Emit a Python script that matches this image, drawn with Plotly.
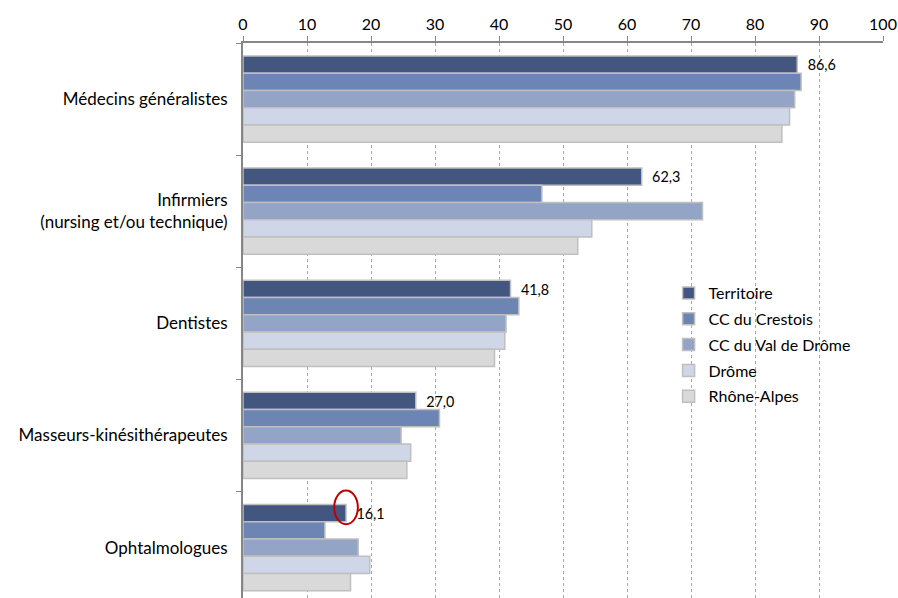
import plotly.graph_objects as go

categories = [
    "Médecins généralistes",
    "Infirmiers<br>(nursing et/ou technique)",
    "Dentistes",
    "Masseurs-kinésithérapeutes",
    "Ophtalmologues",
]
territoire = [86.6, 62.3, 41.8, 27.0, 16.1]
cc_crestois = [87.2, 46.7, 43.1, 30.7, 12.8]
cc_val_drome = [86.2, 71.8, 41.1, 24.7, 18.0]
drome = [85.4, 54.5, 40.9, 26.2, 19.8]
rhone_alpes = [84.2, 52.3, 39.3, 25.6, 16.8]
x_ticks = list(range(0, 101, 10))

series = [
    ("Territoire", territoire, "#42567F"),
    ("CC du Crestois", cc_crestois, "#6D85B5"),
    ("CC du Val de Drôme", cc_val_drome, "#93A4C7"),
    ("Drôme", drome, "#CED6E8"),
    ("Rhône-Alpes", rhone_alpes, "#D9D9D9"),
]

FONT = "Lato"

fig = go.Figure()
for name, vals, color in series:
    labels = None
    if name == "Territoire":
        labels = ["  " + f"{v:.1f}".replace(".", ",") for v in vals]
    fig.add_trace(go.Bar(
        name=name,
        legendgroup=name,
        y=categories,
        x=vals,
        orientation="h",
        marker=dict(color=color, line=dict(color="#BFBFBF", width=1.5)),
        text=labels,
        textposition="outside" if labels else None,
        textfont=dict(family=FONT, size=15, color="#000000"),
        cliponaxis=False,
        hoverinfo="x+name",
    ))

# highlight around the end of the Ophtalmologues / Territoire bar
oph_center = 4 - 0.308 - 0.05
fig.add_shape(
    type="circle", xref="x", yref="y",
    x0=territoire[4] - 1.85, x1=territoire[4] + 1.85,
    y0=oph_center - 0.15, y1=oph_center + 0.15,
    line=dict(color="#C00000", width=2),
)

fig.update_layout(
    width=898, height=598,
    margin=dict(l=243, r=15, t=43, b=0),
    paper_bgcolor="white", plot_bgcolor="white",
    barmode="group", bargap=0.23, bargroupgap=0,
    font=dict(family=FONT, size=16, color="#000000"),
    showlegend=True,
    legend=dict(
        x=0.665, y=0.58, xanchor="left", yanchor="top",
        font=dict(family=FONT, size=16, color="#000000"),
        itemwidth=30, traceorder="grouped", tracegroupgap=2,
        bgcolor="rgba(0,0,0,0)",
    ),
    xaxis=dict(
        side="top", range=[0, 100], tickvals=x_ticks,
        showgrid=True, gridcolor="#A6A6A6", griddash="dot", gridwidth=1,
        showline=True, linecolor="#868686", linewidth=2,
        ticks="outside", ticklen=5, tickcolor="#868686",
        tickfont=dict(family=FONT, size=16), zeroline=False,
    ),
    yaxis=dict(
        categoryorder="array", categoryarray=categories,
        range=[4.45, -0.5],
        showline=True, linecolor="#868686", linewidth=2,
        ticks="outside", ticklen=5, tickcolor="#868686", tickson="boundaries",
        tickfont=dict(family=FONT, size=17),
        ticklabelstandoff=10,
        showgrid=False,
    ),
)

fig.write_html("out.html")
